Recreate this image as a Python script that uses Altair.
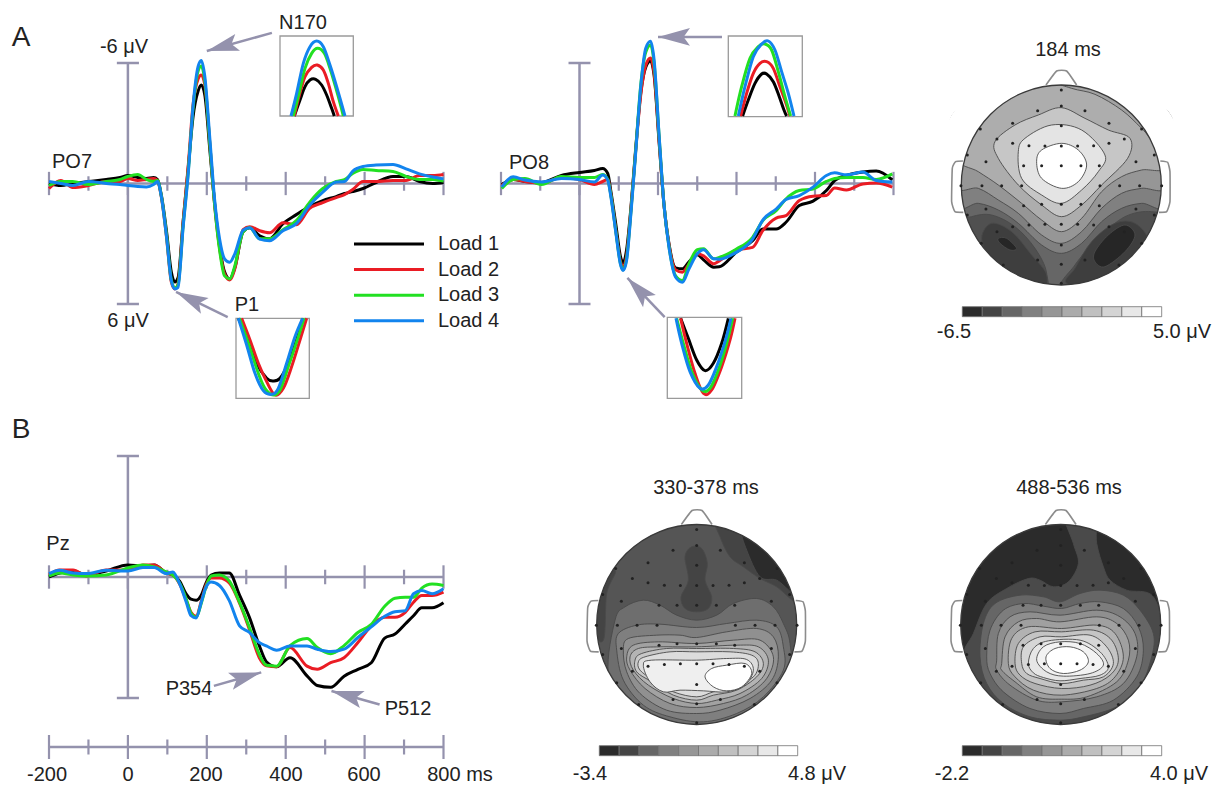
import math
import altair as alt
import pandas as pd

# ---------- waveform data (ms, microvolt; negative is up) ----------
LOADS = ["Load 1", "Load 2", "Load 3", "Load 4"]
LOAD_COLORS = ["#000000", "#ea1c24", "#22e022", "#1284ee"]

T_PO7 = [-200,-170,-140,-100,-55,-20,0,25,47,65,75,85,98,110,119,127,140,153,165,178,186,195,208,220,233,245,258,271,292,309,334,359,393,427,460,494,528,549,570,596,629,672,705,739,773,800]
PO7_1 = [0,0.1,0,-0.1,-0.2,-0.3,-0.4,-0.3,-0.25,-0.3,-0.2,0.6,2.4,4.4,4.9,4.7,1.9,-0.8,-3.3,-4.6,-4.9,-4.4,-1.6,1.0,3.2,4.4,4.75,4.2,2.4,2.2,2.6,2.75,2.0,1.55,1.15,0.85,0.65,0.5,0.4,0.25,-0.05,-0.35,-0.35,-0.1,0,-0.05]
PO7_2 = [0.25,-0.15,0.2,0.1,-0.1,-0.1,-0.25,-0.15,-0.2,-0.25,-0.15,0.7,2.7,4.9,5.25,5.0,1.9,-0.9,-3.9,-5.2,-5.4,-4.9,-1.9,1.1,3.3,4.5,4.8,4.25,2.3,2.15,2.35,2.45,1.95,2.05,1.25,0.95,0.7,0.55,0.3,-0.1,-0.1,-0.15,-0.15,-0.4,-0.4,-0.45]
PO7_3 = [0.1,-0.1,-0.1,0.05,-0.1,-0.2,-0.35,-0.45,-0.2,-0.1,-0.15,0.65,2.6,4.8,5.2,5.05,2.1,-0.6,-3.7,-5.6,-5.85,-5.1,-1.9,1.1,3.4,4.6,4.75,4.1,2.4,2.2,2.75,2.75,2.3,1.85,0.95,0.25,-0.1,-0.2,-0.5,-0.7,-0.65,-0.6,-0.35,-0.2,-0.2,-0.12]
PO7_4 = [-0.1,0,0.1,-0.1,0,0.05,0.1,0.15,0.17,0.05,-0.1,0.67,2.67,4.83,5.25,5.17,2.17,-0.5,-3.83,-5.83,-6.13,-5.33,-2.17,0.83,2.83,3.75,3.92,3.5,2.33,2.2,2.77,2.85,2.35,2.0,1.1,0.43,-0.07,-0.1,-0.62,-0.85,-0.92,-0.95,-0.73,-0.48,-0.32,-0.23]

T_PO8 = [-198,-169,-139,-97,-46,0,38,59,72,80,93,104,111,120,131,143,156,169,181,190,203,215,228,245,262,279,300,316,342,356,399,441,467,501,526,560,595,629,650,680,722,756,797]
PO8_1 = [0.05,-0.2,-0.1,-0.05,-0.4,-0.55,-0.65,-0.75,-0.5,0.4,2.1,3.6,3.95,3.3,1.2,-1.7,-4.5,-5.8,-6.1,-5.4,-2.0,1.0,3.0,4.2,4.25,3.9,3.55,3.8,4.17,4.15,3.43,2.85,2.27,2.27,1.93,1.1,0.88,0.35,-0.15,-0.4,-0.57,-0.62,-0.18]
PO8_2 = [0.1,-0.2,-0.1,0,-0.3,-0.2,0.05,-0.1,-0.2,0.55,2.4,3.85,4.15,3.6,1.3,-1.6,-4.4,-5.9,-6.25,-5.5,-2.1,1.0,3.05,4.3,4.42,4.0,3.5,3.6,4.0,3.85,3.32,3.18,2.35,1.72,1.6,0.85,0.63,0.6,0.22,0.32,0.02,-0.02,0.18]
PO8_3 = [0.25,-0.2,-0.25,0.05,-0.35,-0.3,-0.3,-0.45,-0.2,0.6,2.45,3.95,4.3,3.75,1.4,-1.6,-4.9,-6.55,-6.9,-6.0,-2.3,1.0,3.15,4.6,4.83,4.0,3.3,3.25,3.75,3.68,3.27,2.68,1.85,1.35,0.77,0.35,0.27,-0.1,-0.25,-0.3,-0.3,-0.2,-0.48]
PO8_4 = [0.17,-0.33,-0.17,-0.08,-0.25,-0.2,-0.08,-0.42,-0.17,0.67,2.5,4.0,4.33,3.83,1.5,-1.5,-4.83,-6.75,-7.08,-6.17,-2.33,1.0,3.17,4.67,4.92,4.25,3.5,3.3,3.75,3.77,3.43,2.77,1.82,1.27,0.8,0.6,0.18,-0.4,-0.53,-0.43,-0.57,-0.15,-0.07]

T_PZ = [-200,-173,-139,-105,-55,0,38,67,97,114,131,148,160,173,186,198,211,232,257,283,308,333,351,377,411,454,480,514,548,583,617,651,677,703,724,745,771,800]
PZ_1 = [0,-0.2,-0.3,-0.1,-0.3,-0.6,-0.55,-0.6,-0.2,-0.1,0.2,0.85,1.1,1.15,0.9,0.3,-0.1,-0.2,-0.2,0.9,2.0,3.4,4.2,4.45,4.0,4.9,5.38,5.47,4.92,4.58,4.25,3.03,2.83,2.33,1.92,1.53,1.53,1.28]
PZ_2 = [-0.1,-0.35,-0.35,-0.05,-0.35,-0.35,-0.6,-0.6,-0.2,-0.1,0.35,1.15,1.75,1.95,1.2,0.4,0.05,0.05,0.3,1.3,2.6,4.0,4.4,4.45,3.5,4.42,4.58,4.25,4.0,3.25,2.42,2.0,2.0,1.75,1.25,0.92,0.92,0.75]
PZ_3 = [-0.05,-0.2,-0.1,-0.05,-0.1,-0.45,-0.6,-0.5,-0.25,-0.1,0.3,1.1,1.8,2.0,1.3,0.5,-0.05,-0.1,0.2,1.25,2.5,3.83,4.38,4.42,3.4,3.05,3.5,3.8,3.4,2.75,2.35,1.45,1.05,1.0,1.0,0.55,0.35,0.42]
PZ_4 = [-0.17,-0.33,-0.2,-0.17,-0.33,-0.3,-0.47,-0.47,-0.17,-0.25,0.33,1.25,1.92,2.03,1.25,0.5,0.25,0.42,1.17,2.42,2.75,3.25,3.42,3.63,3.42,3.42,3.58,3.7,3.58,3.0,2.47,1.95,1.72,1.67,0.83,0.67,0.83,0.58]

TICKS_MS = [-200,-100,0,100,200,300,400,500,600,700,800]

# ---------- zoomed peak insets (digitised units inside each box) ----------
N170L = [[(58,258),(75,210),(90,170),(105,150),(122,148),(140,165),(155,195),(170,235),(178,258)],
         [(58,258),(72,200),(90,140),(110,112),(127,105),(145,120),(160,160),(175,215),(190,258)],
         [(55,258),(72,190),(90,115),(110,70),(128,55),(148,70),(165,115),(190,200),(205,258)],
         [(48,258),(65,190),(85,100),(105,50),(125,33),(145,50),(165,105),(185,170),(210,258)]]
P1L = [[(25,505),(50,560),(80,640),(110,685),(130,693),(150,685),(175,640),(200,570),(218,505)],
       [(35,505),(60,570),(85,640),(110,695),(135,735),(160,715),(185,650),(210,570),(230,505)],
       [(28,505),(55,580),(85,670),(105,715),(130,735),(150,720),(175,650),(205,560),(222,505)],
       [(25,505),(50,585),(75,670),(100,722),(125,733),(145,715),(170,640),(195,560),(218,505)]]
N170R = [[(68,258),(85,210),(105,160),(125,132),(140,132),(160,155),(178,200),(192,240),(200,258)],
         [(62,258),(80,190),(100,130),(120,100),(140,95),(160,115),(180,170),(198,220),(210,258)],
         [(45,258),(65,170),(90,85),(115,50),(135,42),(155,60),(175,125),(195,200),(212,258)],
         [(55,258),(75,170),(100,80),(125,42),(145,33),(165,60),(185,125),(205,190),(222,258)]]
P1R = [[(62,25),(85,85),(110,150),(135,182),(160,160),(185,100),(205,25)],
       [(62,25),(80,100),(105,190),(130,250),(155,240),(185,170),(210,90),(225,25)],
       [(50,25),(70,100),(95,185),(125,240),(150,235),(175,180),(200,100),(218,25)],
       [(48,25),(65,100),(90,185),(120,235),(145,225),(170,170),(195,95),(213,25)]]

# ---------- scalp maps: filled contours, painted back to front ----------
G = ["#2b2b2b","#444444","#666666","#808080","#969696","#ababab","#c0c0c0","#d4d4d4","#e8e8e8","#ffffff"]

HEAD1 = [
 ("#666666",[(379,130),(600,220),(700,450),(600,680),(379,770),(158,680),(60,450),(158,220)]),
 ("#808080",[(60,505),(130,505),(190,525),(250,565),(320,630),(380,655),(440,625),(500,560),(560,520),(620,505),(700,505),(690,250),(379,110),(70,250)]),
 ("#969696",[(60,450),(130,460),(190,495),(250,535),(320,600),(380,625),(440,590),(500,520),(560,475),(620,460),(700,450),(690,250),(379,110),(70,250)]),
 ("#adadad",[(60,365),(130,410),(190,450),(260,505),(320,555),(380,590),(440,550),(500,470),(560,425),(620,405),(700,390),(690,220),(379,100),(70,220)]),
 ("#a2a2a2",[(335,130),(410,160),(480,178),(560,225),(620,280),(680,340),(640,200),(420,105)]),
 ("#c6c6c6",[(180,320),(240,270),(310,240),(379,218),(450,250),(520,285),(585,310),(578,370),(500,450),(440,510),(380,545),(320,510),(250,450),(190,370)]),
 ("#e4e4e4",[(250,350),(270,310),(350,270),(440,285),(510,360),(490,410),(440,465),(380,505),(320,480),(260,430)]),
 ("#ffffff",[(305,380),(320,345),(380,325),(430,345),(455,390),(430,440),(380,460),(320,430)]),
 ("#505050",[(60,570),(110,545),(170,540),(240,575),(300,640),(335,715),(320,790),(120,720)]),
 ("#505050",[(390,760),(420,690),(490,610),(570,545),(650,530),(710,560),(640,720)]),
 ("#3e3e3e",[(140,610),(170,565),(230,590),(290,660),(335,720),(320,780),(230,720),(170,680)]),
 ("#3e3e3e",[(395,745),(420,700),(470,620),(540,565),(600,565),(640,620),(600,700),(500,770)]),
 ("#262626",[(190,610),(215,610),(245,640),(225,645),(195,625)]),
 ("#262626",[(480,650),(520,600),(570,570),(600,600),(570,650),(510,695),(480,680)]),
]
HEAD2 = [
 ("#555555",[(380,55),(600,145),(700,373),(600,600),(380,690),(160,600),(60,373),(160,145)]),
 ("#444444",[(135,210),(110,280),(100,420),(60,380),(60,220)]),
 ("#444444",[(435,50),(450,110),(480,170),(520,200),(570,235),(620,260),(690,310),(650,170),(530,70)]),
 ("#2b2b2b",[(515,90),(530,150),(570,230),(620,240),(670,275),(640,175),(560,95)]),
 ("#444444",[(345,170),(365,140),(395,145),(412,190),(405,240),(425,290),(415,325),(380,335),(345,325),(333,290),(355,240)]),
 ("#6e6e6e",[(135,360),(165,320),(220,300),(270,315),(320,345),(380,360),(440,345),(490,310),(560,295),(610,320),(640,370),(660,430),(660,540),(590,660),(480,720),(380,730),(280,720),(170,660),(115,520)]),
 ("#7f7f7f",[(140,450),(145,400),(200,375),(270,372),(380,382),(470,370),(560,360),(620,380),(640,440),(640,510),(580,590),(500,640),(400,665),(300,650),(220,615),(160,540)]),
 ("#909090",[(160,450),(175,415),(260,405),(330,405),(380,412),(470,395),(560,385),(610,410),(625,470),(605,540),(540,595),(450,630),(380,640),(290,630),(210,580),(170,515)]),
 ("#a2a2a2",[(170,470),(190,435),(265,425),(380,430),(490,420),(570,420),(610,470),(590,535),(530,585),(460,610),(380,622),(300,610),(225,565),(180,510)]),
 ("#b4b4b4",[(180,470),(205,445),(270,440),(380,440),(500,435),(565,440),(595,480),(575,535),(510,580),(440,600),(380,610),(310,595),(235,555),(190,510)]),
 ("#c8c8c8",[(195,480),(215,460),(290,445),(380,445),(490,445),(555,455),(580,490),(560,530),(500,570),(430,585),(380,600),(310,585),(245,545),(200,515)]),
 ("#dcdcdc",[(205,485),(225,470),(300,455),(380,455),(480,455),(545,465),(565,490),(550,530),(490,560),(430,575),(380,590),(310,575),(250,540),(210,510)]),
 ("#efefef",[(220,495),(245,480),(380,480),(470,475),(530,478),(550,510),(525,555),(470,575),(400,572),(330,570),(280,575),(240,545)]),
 ("#ffffff",[(405,530),(425,505),(470,495),(525,490),(545,520),(515,560),(470,572),(430,560)]),
]
HEAD3 = [
 ("#2b2b2b",[(362,55),(590,145),(690,373),(590,600),(362,690),(134,600),(40,373),(134,145)]),
 ("#4a4a4a",[(375,40),(400,130),(415,190),(385,245),(340,260),(300,240),(265,235),(200,265),(140,310),(100,400),(70,470),(110,580),(190,690),(360,730),(540,690),(630,580),(670,420),(640,290),(560,270),(510,240),(490,200),(470,130),(460,40)]),
 ("#666666",[(120,470),(130,370),(165,310),(240,285),(310,290),(360,305),(420,280),(480,270),(550,285),(600,330),(640,400),(635,470),(600,560),(530,620),(430,650),(360,660),(270,650),(190,610),(140,550)]),
 ("#7d7d7d",[(140,470),(150,390),(190,330),(250,310),(310,318),(365,325),(420,310),(480,305),(550,325),(595,380),(610,450),(590,530),(520,600),(430,625),(360,640),(270,625),(190,575),(150,520)]),
 ("#8f8f8f",[(170,480),(175,400),(210,350),(270,335),(360,345),(470,330),(540,350),(585,400),(590,470),(550,550),(470,590),(365,605),(290,600),(210,555),(170,510)]),
 ("#a0a0a0",[(185,490),(195,410),(235,365),(290,355),(360,365),(470,350),(530,370),(565,420),(565,480),(530,545),(440,590),(365,597),(290,590),(225,545),(185,510)]),
 ("#b2b2b2",[(205,490),(215,415),(265,380),(365,385),(470,375),(525,400),(550,470),(525,530),(470,565),(365,585),(280,570),(225,530)]),
 ("#c4c4c4",[(225,490),(235,430),(285,395),(365,395),(460,390),(515,420),(535,480),(510,525),(450,555),(365,565),(285,550),(240,525)]),
 ("#d6d6d6",[(245,490),(250,440),(300,410),(365,410),(450,405),(500,440),(520,490),(490,530),(430,540),(365,550),(300,535),(260,520)]),
 ("#e6e6e6",[(265,490),(280,445),(325,422),(420,420),(480,455),(505,500),(480,525),(420,535),(360,542),(310,532),(280,518)]),
 ("#f2f2f2",[(290,480),(310,440),(360,425),(420,430),(470,460),(490,495),(450,520),(370,528),(320,515)]),
 ("#ffffff",[(318,470),(345,445),(390,440),(430,455),(445,485),(420,510),(370,520),(330,505)]),
]
ELECTRODES = [(379,165),(308,227),(379,213),(450,227),(233,265),(522,265),(136,282),(620,282),(379,272),(186,312),(233,325),(282,332),(330,333),(379,333),(428,333),(476,332),(522,325),(568,312),(97,360),(658,360),(153,380),(266,392),(320,392),(379,392),(438,392),(493,392),(603,380),(78,452),(141,452),(200,452),(260,452),(495,452),(554,452),(614,452),(680,452),(97,540),(658,540),(153,522),(266,512),(320,508),(379,508),(438,508),(493,512),(603,522),(233,575),(282,570),(330,568),(379,568),(428,568),(476,570),(522,575),(186,590),(568,590),(379,630),(139,625),(620,625),(450,675),(308,675),(379,688),(205,690),(552,690),(379,745)]
EAR_L = [(84,378),(62,380),(52,400),(50,500),(60,530),(85,532)]
EAR_R = [(676,378),(698,382),(705,410),(705,500),(695,530),(672,532)]
NOSE = [(333,150),(365,108),(395,108),(425,150)]

# ---------- text ----------
TEXTS = [("A",21,38,28),("B",21,430,28),("-6 μV",124,47,20),("6 μV",128,321,20),("N170",303,23,20),
 ("PO7",72,162,20),("PO8",529,163,20),("P1",247,305,20),("Pz",58,544,20),("184 ms",1068,50,20),
 ("-6.5",954,332,20),("5.0 μV",1182,332,20),("330-378 ms",706,488,20),("488-536 ms",1069,488,20),
 ("-3.4",590,774,20),("4.8 μV",817,774,20),("-2.2",952,774,20),("4.0 μV",1179,774,20),
 ("P354",189,689,20),("P512",408,709,20),("-200",47,775,20),("0",128,775,20),("200",206,775,20),
 ("400",286,775,20),("600",364,775,20),("800 ms",460,775,20)]

AXC = "#9492ad"
FONT = "Liberation Sans"
LW = 3

def sc(domain, rng):
    return alt.Scale(domain=domain, range=[rng[0]-8, rng[1]-8], nice=False, zero=False)

layers = []

# ---------- scalp maps ----------
def head(polys, cx, cy, pcx, pcy, lo, hi, vals, by):
    xs = sc([cx-300, cx+300], [pcx-100, pcx+100])
    ys = sc([cy-300, cy+300], [pcy-100, pcy+100])
    rows = [dict(g=f"{k:02d}", i=i, x=p[0], y=p[1], f=f) for k, (f, pts) in enumerate(polys) for i, p in enumerate(pts)]
    layers.append(alt.Chart(pd.DataFrame(rows)).mark_line(interpolate="cardinal-closed", stroke="#4a4a4a", strokeWidth=0.9).encode(
        x=alt.X("x:Q", scale=xs, axis=None), y=alt.Y("y:Q", scale=ys, axis=None),
        fill=alt.Fill("f:N", scale=None), detail="g:N", order="i:Q"))
    # head centre used for the mask and the outline
    c = pd.DataFrame([dict(x=cx, y=cy)])
    layers.append(alt.Chart(c).mark_point(filled=False, color="white", size=52900, strokeWidth=30, opacity=1).encode(
        x=alt.X("x:Q", scale=xs, axis=None), y=alt.Y("y:Q", scale=ys, axis=None)))
    layers.append(alt.Chart(c).mark_point(filled=False, color="#3a3a3a", size=40000, strokeWidth=1.3, opacity=1).encode(
        x=alt.X("x:Q", scale=xs, axis=None), y=alt.Y("y:Q", scale=ys, axis=None)))
    # montage: read on the first map, so its centre is the domain
    xs1 = sc([79, 679], [pcx-100, pcx+100])
    ys1 = sc([150, 750], [pcy-100, pcy+100])
    rows = [dict(g=n, i=i, x=p[0], y=p[1]) for n, pts in (("l", EAR_L), ("r", EAR_R), ("n", NOSE)) for i, p in enumerate(pts)]
    layers.append(alt.Chart(pd.DataFrame(rows)).mark_line(interpolate="cardinal", tension=0.6, color="#8c8c8c", strokeWidth=1.6).encode(
        x=alt.X("x:Q", scale=xs1, axis=None), y=alt.Y("y:Q", scale=ys1, axis=None), detail="g:N", order="i:Q"))
    el = pd.DataFrame(ELECTRODES, columns=["x", "y"])
    layers.append(alt.Chart(el).mark_circle(size=9, color="#222222", opacity=1).encode(
        x=alt.X("x:Q", scale=xs1, axis=None), y=alt.Y("y:Q", scale=ys1, axis=None)))
    # colour bar
    step = (vals[1]-vals[0])/len(G)
    cb = pd.DataFrame([dict(a=vals[0]+i*step, b=vals[0]+(i+1)*step, f=G[i]) for i in range(len(G))])
    layers.append(alt.Chart(cb).mark_rect(stroke="#707070", strokeWidth=0.8).encode(
        x=alt.X("a:Q", scale=sc(vals, [lo, hi]), axis=None), x2="b:Q",
        y=alt.value(by-8), y2=alt.value(by+10-8), fill=alt.Fill("f:N", scale=None)))

head(HEAD1, 379, 450, 1061.3, 185, 962.3, 1161.7, [-6.5, 5.0], 306.7)
head(HEAD2, 380, 373, 696.7, 624.5, 599.3, 797.7, [-3.4, 4.8], 745.7)
head(HEAD3, 362, 373, 1060.7, 624.5, 962.3, 1161.7, [-2.2, 4.0], 745.7)

# ---------- ERP panels ----------
def tail_tip_layers(xs, ys, arrows, xpx, ypx):
    for (t0, v0, t1, v1) in arrows:
        dx, dy = (t1-t0)*xpx, (v1-v0)*ypx
        a = math.degrees(math.atan2(dx, -dy)) % 360
        d = pd.DataFrame([dict(t=t0, v=v0, i=0), dict(t=t1, v=v1, i=1)])
        layers.append(alt.Chart(d).mark_line(color=AXC, strokeWidth=2.5).encode(
            x=alt.X("t:Q", scale=xs, axis=None), y=alt.Y("v:Q", scale=ys, axis=None), order="i:Q"))
        layers.append(alt.Chart(d[d.i == 1]).mark_point(shape="M0,0L0.55,2L0,1.6L-0.55,2Z", filled=True, color=AXC,
                      size=1024, opacity=1, angle=a).encode(
            x=alt.X("t:Q", scale=xs, axis=None), y=alt.Y("v:Q", scale=ys, axis=None)))

def panel(T, series, xr, yr, arrows):
    xs = sc([-200, 800], xr)
    ys = sc([-6, 6], yr)
    X = lambda f="t:Q": alt.X(f, scale=xs, axis=None)
    Y = lambda f: alt.Y(f, scale=ys, axis=None)
    # axes
    layers.append(alt.Chart(pd.DataFrame([dict(a=-200, b=800, v=0)])).mark_rule(color=AXC, strokeWidth=2.5).encode(
        x=X("a:Q"), x2="b:Q", y=Y("v:Q")))
    layers.append(alt.Chart(pd.DataFrame([dict(t=0, a=-6, b=6)])).mark_rule(color=AXC, strokeWidth=2.5).encode(
        x=X(), y=Y("a:Q"), y2="b:Q"))
    layers.append(alt.Chart(pd.DataFrame([dict(a=-28, b=28, v=-6), dict(a=-28, b=28, v=6)])).mark_rule(color=AXC, strokeWidth=2.5).encode(
        x=X("a:Q"), x2="b:Q", y=Y("v:Q")))
    tk = pd.DataFrame([dict(t=m, a=-(0.58 if m % 200 == 0 else 0.36), b=(0.58 if m % 200 == 0 else 0.36)) for m in TICKS_MS])
    layers.append(alt.Chart(tk).mark_rule(color=AXC, strokeWidth=2.2).encode(x=X(), y=Y("a:Q"), y2="b:Q"))
    # waveforms
    rows = [dict(t=t, v=v, k=k) for k, vals in enumerate(series) for t, v in zip(T, vals, strict=True)]
    layers.append(alt.Chart(pd.DataFrame(rows)).mark_line(interpolate="monotone", strokeWidth=LW).encode(
        x=X(), y=Y("v:Q"), detail="k:N", order="t:Q",
        color=alt.Color("k:O", scale=alt.Scale(domain=[0, 1, 2, 3], range=LOAD_COLORS), legend=None)))
    tail_tip_layers(xs, ys, arrows, (xr[1]-xr[0])/1000, (yr[1]-yr[0])/12)

panel(T_PO7, [PO7_1, PO7_2, PO7_3, PO7_4], [49, 443.5], [63, 304],
      [(365, -7.5, 200, -6.6), (253, 6.65, 122, 5.4)])
panel(T_PO8, [PO8_1, PO8_2, PO8_3, PO8_4], [501, 893.5], [63, 304],
      [(363, -7.3, 200, -7.3), (217, 6.65, 122, 4.7)])
panel(T_PZ, [PZ_1, PZ_2, PZ_3, PZ_4], [49, 443.5], [456, 698],
      [(218, 5.4, 338, 4.73), (638, 6.32, 516, 5.65)])

# bottom time axis
xs_b = sc([-200, 800], [49, 443.5])
layers.append(alt.Chart(pd.DataFrame([dict(a=-200, b=800)])).mark_rule(color=AXC, strokeWidth=2.5).encode(
    x=alt.X("a:Q", scale=xs_b, axis=None), x2="b:Q", y=alt.value(747-8)))
for flag, h in ((True, 12), (False, 7.5)):
    d = pd.DataFrame([dict(t=m) for m in TICKS_MS if (m % 200 == 0) == flag])
    layers.append(alt.Chart(d).mark_rule(color=AXC, strokeWidth=2.2).encode(
        x=alt.X("t:Q", scale=xs_b, axis=None), y=alt.value(747-8-h), y2=alt.value(747-8+h)))

# ---------- insets ----------
def inset(curves, xd, yd, xr, yr):
    xs, ys = sc(xd, xr), sc(yd, yr)
    box = pd.DataFrame([dict(a=xd[0], b=xd[1], c=yd[0], d=yd[1])])
    layers.append(alt.Chart(box).mark_rect(fill="white", stroke="#9a9a9a", strokeWidth=1.3).encode(
        x=alt.X("a:Q", scale=xs, axis=None), x2="b:Q", y=alt.Y("c:Q", scale=ys, axis=None), y2="d:Q"))
    rows = [dict(x=p[0], y=p[1], k=k, i=i) for k, c in enumerate(curves) for i, p in enumerate(c)]
    layers.append(alt.Chart(pd.DataFrame(rows)).mark_line(interpolate="cardinal", strokeWidth=LW).encode(
        x=alt.X("x:Q", scale=xs, axis=None), y=alt.Y("y:Q", scale=ys, axis=None), detail="k:N", order="i:Q",
        color=alt.Color("k:O", scale=alt.Scale(domain=[0, 1, 2, 3], range=LOAD_COLORS), legend=None)))

inset(N170L, [15, 235], [18, 258], [280, 353.3], [36, 116])
inset(P1L, [18, 238], [505, 745], [236, 309.3], [318.3, 398.3])
inset(N170R, [25, 247], [18, 260], [728.3, 802.3], [36, 116.7])
inset(P1R, [22, 245], [22, 265], [667.3, 741.7], [317.3, 398.3])

# ---------- legend ----------
leg = pd.DataFrame(dict(n=LOADS, k=[0, 1, 2, 3]))
ly = sc([0, 3], [244, 320.7])
layers.append(alt.Chart(leg).mark_rule(strokeWidth=LW).encode(
    x=alt.value(354-8), x2=alt.value(424-8), y=alt.Y("k:Q", scale=ly, axis=None),
    color=alt.Color("k:O", scale=alt.Scale(domain=[0, 1, 2, 3], range=LOAD_COLORS), legend=None)))
layers.append(alt.Chart(leg).mark_text(align="left", baseline="middle", font=FONT, fontSize=20, color="#222222").encode(
    x=alt.value(438-8), y=alt.Y("k:Q", scale=ly, axis=None), text="n:N"))

# ---------- all other text ----------
tx = pd.DataFrame(TEXTS, columns=["s", "x", "y", "z"])
layers.append(alt.Chart(tx).mark_text(align="center", baseline="middle", font=FONT, color="#222222").encode(
    x=alt.X("x:Q", scale=sc([0, 1229], [0, 1229]), axis=None),
    y=alt.Y("y:Q", scale=sc([0, 789], [0, 789]), axis=None),
    size=alt.Size("z:Q", scale=None), text="s:N"))

chart = alt.layer(*layers).resolve_scale(x="independent", y="independent", color="independent").properties(
    width=1213, height=778, padding=0, autosize=alt.AutoSizeParams(type="none"), background="white"
).configure_view(stroke=None)

chart.save("out.html", embed_options={"renderer": "svg", "actions": False})
